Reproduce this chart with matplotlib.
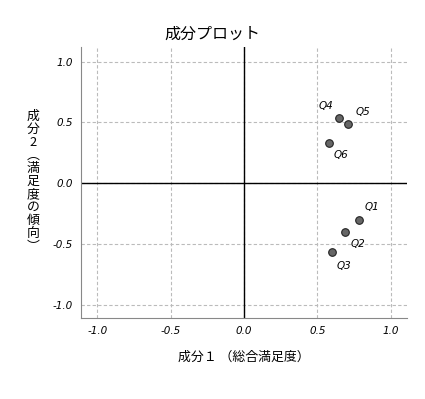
import matplotlib
matplotlib.use('Agg')
import matplotlib.pyplot as plt

plt.rcParams['font.family'] = ['Noto Sans CJK JP', 'DejaVu Sans']

# component loadings
labels = ['Q1', 'Q2', 'Q3', 'Q4', 'Q5', 'Q6']
comp1 = [0.78, 0.69, 0.60, 0.65, 0.71, 0.58]
comp2 = [-0.30, -0.40, -0.57, 0.54, 0.49, 0.33]
# label offsets in points
offsets = {'Q1': (4, 7), 'Q2': (4, -11), 'Q3': (3, -12), 'Q4': (-15, 6),
           'Q5': (5, 6), 'Q6': (3, -11)}
ticks = [-1.0, -0.5, 0.0, 0.5, 1.0]

fig = plt.figure(figsize=(4.25, 3.99), dpi=100)
ax = fig.add_axes([0.1906, 0.203, 0.767, 0.679])

ax.set_xlim(-1.11, 1.11)
ax.set_ylim(-1.11, 1.12)
ax.set_xticks(ticks)
ax.set_yticks(ticks)
ax.set_xticklabels(['%.1f' % t for t in ticks], fontstyle='italic', fontsize=7.5, family='DejaVu Sans')
ax.set_yticklabels(['%.1f' % t for t in ticks], fontstyle='italic', fontsize=7.5, family='DejaVu Sans')
ax.tick_params(length=0, pad=6)
ax.grid(True, linestyle=(0, (3, 2)), color='#bbbbbb', linewidth=0.8)
ax.set_axisbelow(True)

for s in ['top', 'right']:
    ax.spines[s].set_visible(False)
for s in ['left', 'bottom']:
    ax.spines[s].set_color('#888888')

ax.axhline(0, color='black', linewidth=1)
ax.axvline(0, color='black', linewidth=1)

ax.scatter(comp1, comp2, s=30, color='#666666', edgecolor='#222222', linewidth=0.8, zorder=3)
for lab, x, y in zip(labels, comp1, comp2):
    ax.annotate(lab, (x, y), xytext=offsets[lab], textcoords='offset points',
                fontsize=7.5, fontstyle='italic', family='DejaVu Sans')

fig.text(0.499, 0.915, '成分プロット', ha='center', va='center', fontsize=11.5)
fig.text(0.573, 0.105, '成分１ （総合満足度）', ha='center', va='center', fontsize=9.3)
ylab = '\n'.join(list('成分') + ['2'] + list('︵満足度の傾向︶'))
fig.text(0.078, 0.545, ylab, ha='center', va='center', fontsize=9.3, linespacing=1.0)

fig.savefig('out.png', dpi=100)
